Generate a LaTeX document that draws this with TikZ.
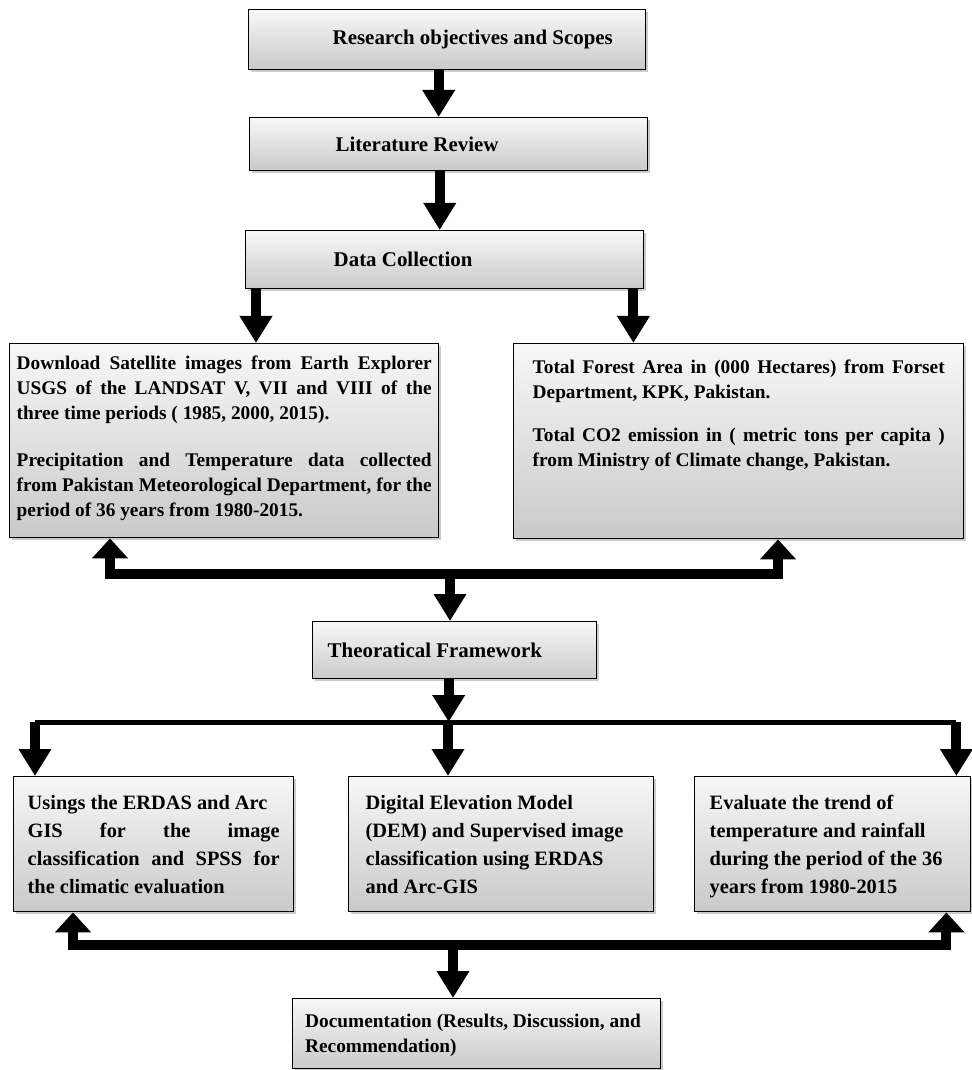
\documentclass[tikz,border=0pt]{standalone}
\usepackage{fontspec}
\setmainfont{Liberation Serif}
\usetikzlibrary{arrows.meta,shadows}
\newcommand\fl[1]{\makebox[\hsize][s]{\spaceskip=0pt\relax #1}}

\begin{document}
\begin{tikzpicture}[
 box/.style={draw,line width=0.8pt,top color=gray!6,bottom color=gray!42,drop shadow={shadow xshift=1.4pt,shadow yshift=-1.4pt,opacity=.4},anchor=north west,align=justify,inner ysep=1mm},
 hd/.style={box,inner xsep=3mm,text width=#1,font=\bfseries\fontsize{11.9}{14}\selectfont},
 dat/.style={box,font=\bfseries\fontsize{11}{14.2}\selectfont},
 low/.style={box,text height=5.6mm,text depth=19.4mm,font=\bfseries\fontsize{11.6}{15.9}\selectfont},
 dn/.style={line width=2mm,-{Triangle[length=5.4mm,width=6.2mm]}},
 up/.style={line width=2mm,-{Triangle[length=4mm,width=7mm]}}]
 \useasboundingbox (0,0) rectangle (19.44,-21.4);
 \node[hd=7.34cm,minimum height=12mm] (obj) at (4.96,-0.18) {\hspace*{1.38cm}Research objectives and Scopes};
 \node[hd=7.36cm,minimum height=10.6mm] (lit) at (4.98,-2.34) {\hspace*{1.42cm}Literature Review};
 \node[hd=7.36cm,minimum height=11.6mm] (col) at (4.9,-4.6) {\hspace*{1.46cm}Data Collection};
 \node[dat,inner xsep=1.4mm,text width=8.3cm,text height=4.2mm,text depth=32.6mm] (sat) at (0.18,-6.86)
  {\fl{Download Satellite images from Earth Explorer}\\
   \fl{USGS of the LANDSAT V, VII and VIII of the}\\
   three time periods ( 1985, 2000, 2015).\\[4.4mm]
   \fl{Precipitation and Temperature data collected}\\
   \fl{from Pakistan Meteorological Department, for the}\\
   period of 36 years from 1980-2015.};
 \node[dat,inner xsep=3.8mm,text width=8.24cm,text height=5mm,text depth=32mm] (fst) at (10.26,-6.86)
  {\fl{Total Forest Area in (000 Hectares) from Forset}\\
   Department, KPK, Pakistan.\\[3.6mm]
   \fl{Total CO2 emission in ( metric tons per capita )}\\
   from Ministry of Climate change, Pakistan.};
 \node[hd=5.08cm,minimum height=11.4mm] (thy) at (6.24,-12.42) {Theoratical Framework};
 \node[low,inner xsep=2.8mm,text width=5.04cm] (gis) at (0.26,-15.52)
  {\mbox{Usings the ERDAS and Arc}\\ \fl{GIS for the image}\\ \fl{classification and SPSS for}\\ the climatic evaluation};
 \node[low,inner xsep=3.4mm,text width=5.42cm] (dem) at (6.96,-15.52)
  {Digital Elevation Model\\ \mbox{(DEM) and Supervised image}\\ classification using ERDAS\\ and Arc-GIS};
 \node[low,inner xsep=3mm,text width=4.92cm] (trd) at (13.88,-15.52)
  {Evaluate the trend of\\ temperature and rainfall\\ \mbox{during the period of the 36}\\ years from 1980-2015};
 \node[box,inner xsep=2.5mm,text width=6.86cm,text height=4.8mm,text depth=7.2mm,font=\bfseries\fontsize{11}{14.2}\selectfont] (doc) at (5.84,-19.96)
  {\mbox{Documentation (Results, Discussion, and}\\ Recommendation)};
 \coordinate (m1) at (9.0,-11.48);
 \coordinate (m2) at (8.96,-14.44);
 \coordinate (m3) at (9.06,-18.9);
 \draw[dn] ([xshift=-1.7mm]obj.south) -- ([xshift=-1.7mm]obj.south |- lit.north);
 \draw[dn] ([xshift=-1.8mm]lit.south) -- ([xshift=-1.8mm]lit.south |- col.north);
 \draw[dn] ([xshift=2.2mm]col.south west) -- ([xshift=2.2mm]col.south west |- sat.north);
 \draw[dn] ([xshift=-2.2mm]col.south east) -- ([xshift=-2.2mm]col.south east |- fst.north);
 \draw[up] (m1) -| ([xshift=20.2mm]sat.south west);
 \draw[up] (m1) -| ([xshift=53mm]fst.south west);
 \draw[dn] (m1) -- (m1 |- thy.north);
 \draw[dn] ([xshift=-1.2mm]thy.south) -- ([xshift=-1.2mm]thy.south |- m2);
 \draw[line width=1mm] ([xshift=4.4mm]gis.north west |- m2) -- ([xshift=-3mm]trd.north east |- m2);
 \draw[dn] ([xshift=4.4mm]gis.north west |- m2) -- ([xshift=4.4mm]gis.north west);
 \draw[dn] (m2) -- (m2 |- dem.north);
 \draw[dn] ([xshift=-3mm]trd.north east |- m2) -- ([xshift=-3mm]trd.north east);
 \draw[up] (m3) -| ([xshift=12mm]gis.south west);
 \draw[up] (m3) -| ([xshift=-5mm]trd.south east);
 \draw[dn] (m3) -- (m3 |- doc.north);
\end{tikzpicture}
\end{document}
